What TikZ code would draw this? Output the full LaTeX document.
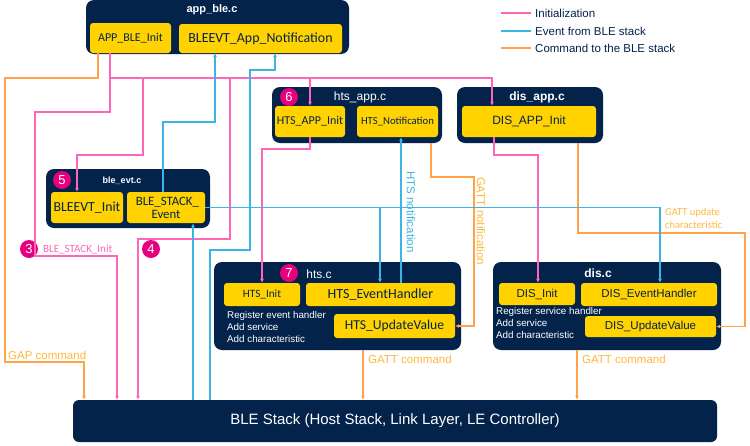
\documentclass[tikz,border=0pt]{standalone}
\usepackage{fontspec}
\setmainfont{Liberation Sans}
\newfontfamily\calfont{Carlito}
\usetikzlibrary{arrows.meta}
\definecolor{stnavy}{HTML}{03234B}
\definecolor{styellow}{HTML}{FFD200}
\definecolor{stpink}{HTML}{FF66B8}
\definecolor{stblue}{HTML}{3CB4E6}
\definecolor{storange}{HTML}{FFA24A}
\definecolor{stlabel}{HTML}{FFB83C}
\definecolor{stmagenta}{HTML}{E6007E}

\begin{document}
\begin{tikzpicture}[x=1pt, y=-1pt,
        module/.style = {shape=rectangle, rounded corners=8pt,
          fill=stnavy, inner sep=0pt},
        func/.style = {shape=rectangle, rounded corners=3pt,
          fill=styellow, text=stnavy, inner sep=0pt, align=center},
        title/.style = {text=white, inner sep=0pt,
          font=\bfseries\fontsize{11}{13}\selectfont},
        badge/.style = {shape=circle, fill=stmagenta, text=white,
          inner sep=0pt, minimum size=18pt, font=\fontsize{13}{13}\selectfont},
        note/.style = {text=white, align=left, anchor=west, inner sep=0pt,
          font=\fontsize{9.8}{12}\selectfont},
        init/.style = {draw=stpink, line width=1.3pt, -{Latex[length=4pt,width=4pt]}},
        evt/.style = {draw=stblue, line width=1.3pt, -{Latex[length=4pt,width=4pt]}},
        cmd/.style = {draw=storange, line width=1.3pt, -{Latex[length=4pt,width=4pt]}},
        lbl/.style = {text=stlabel, inner sep=0pt, font=\fontsize{11.5}{13}\selectfont}]
  \useasboundingbox[fill=white] (0,0) rectangle (750,445);

  \node[module, minimum width=263pt, minimum height=54pt] (appble) at (217.5,27) {};
  \node[title] (appble-t) at (212,10) {app\_ble.c};
  \node[func, minimum width=81pt, minimum height=30pt, font=\calfont\fontsize{12}{14}\selectfont] (appinit) at (130.5,38) {APP\_BLE\_Init};
  \node[func, minimum width=163pt, minimum height=29pt, font=\calfont\fontsize{13.9}{16}\selectfont] (appnotif) at (260.5,38.5) {BLEEVT\_App\_Notification};

  \node[module, minimum width=170pt, minimum height=56pt] (htsapp) at (357,115) {};
  \node[title, font=\fontsize{12}{14}\selectfont] (htsapp-t) at (360,97) {hts\_app.c};
  \node[badge] (b6) at (289,97) {6};
  \node[func, minimum width=70pt, minimum height=31pt, font=\calfont\fontsize{12}{14}\selectfont] (htsappinit) at (310,121.5) {HTS\_APP\_Init};
  \node[func, minimum width=81pt, minimum height=31pt, font=\calfont\fontsize{10.7}{12}\selectfont] (htsnotif) at (397.5,121.5) {HTS\_Notification};

  \node[module, minimum width=146pt, minimum height=56pt] (disapp) at (530,115) {};
  \node[title, font=\bfseries\fontsize{12}{14}\selectfont] (disapp-t) at (537,97) {dis\_app.c};
  \node[func, minimum width=134pt, minimum height=31pt, font=\fontsize{12}{14}\selectfont] (disappinit) at (529,121.5) {DIS\_APP\_Init};

  \node[module, minimum width=164pt, minimum height=59pt] (bleevt) at (128,198.5) {};
  \node[title, font=\bfseries\fontsize{9}{11}\selectfont] (bleevt-t) at (122,181) {ble\_evt.c};
  \node[badge] (b5) at (62,180) {5};
  \node[func, minimum width=72pt, minimum height=31pt, font=\calfont\fontsize{13.8}{15}\selectfont] (bleevtinit) at (87,207.5) {BLEEVT\_Init};
  \node[func, minimum width=78pt, minimum height=31pt, font=\calfont\fontsize{12.8}{13}\selectfont] (blestack) at (166,207.5) {\ BLE\_STACK\_\\Event};

  \node[module, minimum width=247pt, minimum height=88pt] (hts) at (337.5,306) {};
  \node[title, font=\fontsize{12}{14}\selectfont] (hts-t) at (319,274) {hts.c};
  \node[badge] (b7) at (289,273) {7};
  \node[func, minimum width=76pt, minimum height=23pt, font=\calfont\fontsize{11.2}{13}\selectfont] (htsinit) at (262,294.5) {HTS\_Init};
  \node[func, minimum width=149pt, minimum height=23pt, font=\calfont\fontsize{14}{16}\selectfont] (htseh) at (380.5,294.5) {HTS\_EventHandler};
  \node[func, minimum width=121pt, minimum height=24pt, font=\calfont\fontsize{13.6}{15}\selectfont] (htsuv) at (394.5,326) {HTS\_UpdateValue};
  \node[note] (htsnote) at (227,327) {Register event handler\\Add service\\Add characteristic};

  \node[module, minimum width=228pt, minimum height=88pt] (dis) at (607,306) {};
  \node[title, font=\bfseries\fontsize{12}{14}\selectfont] (dis-t) at (598,273) {dis.c};
  \node[func, minimum width=76pt, minimum height=22pt, font=\fontsize{11.5}{13}\selectfont] (disinit) at (537,294) {DIS\_Init};
  \node[func, minimum width=136pt, minimum height=23pt, font=\fontsize{11.5}{13}\selectfont] (diseh) at (649,294.5) {DIS\_EventHandler};
  \node[func, minimum width=131pt, minimum height=21pt, font=\fontsize{11.5}{13}\selectfont] (disuv) at (650.5,326.5) {DIS\_UpdateValue};
  \node[note] (disnote) at (496,323) {Register service handler\\Add service\\Add characteristic};

  \node[module, rounded corners=6pt, minimum width=644pt, minimum height=42pt, text=white,
        font=\fontsize{15}{17}\selectfont] (stack) at (395,421) {BLE Stack (Host Stack, Link Layer, LE Controller)};

  \node[badge] (b3) at (29,249) {3};
  \node[badge] (b4) at (151,249) {4};

  \draw[cmd] (appinit.south -| 98,0) |- (5,78) |- (84,362) -- (stack.north -| 84,0);
  \draw[cmd] (htsapp.south -| 431,0) |- (474,177) |- (htsuv.east);
  \draw[cmd] (disapp.south -| 578,0) |- (745,233) |- (disuv.east);
  \draw[cmd] (hts.south -| 363,0) -- (stack.north -| 363,0);
  \draw[cmd] (dis.south -| 577,0) -- (stack.north -| 577,0);

  \draw[init] (appinit.south -| 110,0) |- (35,112) |- (117,256) -- (stack.north -| 117,0);
  \draw[init] (110,78) -| (disappinit.north -| 492,0);
  \draw[init] (143,78) |- (77,155) -- (bleevtinit.north -| 77,0);
  \draw[init] (230,78) |- (138,239) -- (stack.north -| 138,0);
  \draw[init] (htsappinit.north |- 0,78) -- (htsappinit.north);
  \draw[init] (htsappinit.south) |- (262,149) -- (htsinit.north);
  \draw[init] (disappinit.south -| 494,0) |- (538,155) -- (disinit.north -| 538,0);

  \draw[evt] (blestack.east) -| (diseh.north -| 660,0);
  \draw[evt] (380,207.5) -- (htseh.north -| 380,0);
  \draw[evt] (blestack.north -| 163,0) |- (215,122) -- (appnotif.south -| 215,0);
  \draw[evt] (stack.north -| 193,0) -- (blestack.south -| 193,0);
  \draw[evt] (stack.north -| 210,0) |- (250,250) |- (275,70) -- (appnotif.south -| 275,0);
  \draw[evt] (htseh.north -| 401,0) -- (htsnotif.south -| 401,0);

  \node[lbl, anchor=south west] (gap-l) at (8,360) {GAP command};
  \node[lbl, anchor=west] (gatt1-l) at (368,359) {GATT command};
  \node[lbl, anchor=west] (gatt2-l) at (582,359) {GATT command};
  \node[lbl, rotate=-90] (gattn-l) at (481,221) {GATT notification};
  \node[lbl, text=stblue, rotate=-90] (htsn-l) at (411,212) {HTS notification};
  \node[lbl, anchor=west, align=left, font=\calfont\fontsize{10.5}{13}\selectfont] (upd-l) at (665,218) {GATT update\\characteristic};
  \node[lbl, text=stpink, anchor=west, font=\calfont\fontsize{11}{12}\selectfont] (init-l) at (43,249) {BLE\_STACK\_Init};

  \node[anchor=west, text=stnavy, inner sep=0pt, font=\fontsize{11.5}{13}\selectfont] (leg1) at (535,13) {Initialization};
  \node[anchor=west, text=stnavy, inner sep=0pt, font=\fontsize{11.5}{13}\selectfont] (leg2) at (535,31) {Event from BLE stack};
  \node[anchor=west, text=stnavy, inner sep=0pt, font=\fontsize{11.5}{13}\selectfont] (leg3) at (535,48) {Command to the BLE stack};
  \draw[stpink, line width=1.3pt] ([xshift=-34pt]leg1.west) -- ([xshift=-4pt]leg1.west);
  \draw[stblue, line width=1.3pt] ([xshift=-34pt]leg2.west) -- ([xshift=-4pt]leg2.west);
  \draw[storange, line width=1.3pt] ([xshift=-34pt]leg3.west) -- ([xshift=-4pt]leg3.west);
\end{tikzpicture}
\end{document}
